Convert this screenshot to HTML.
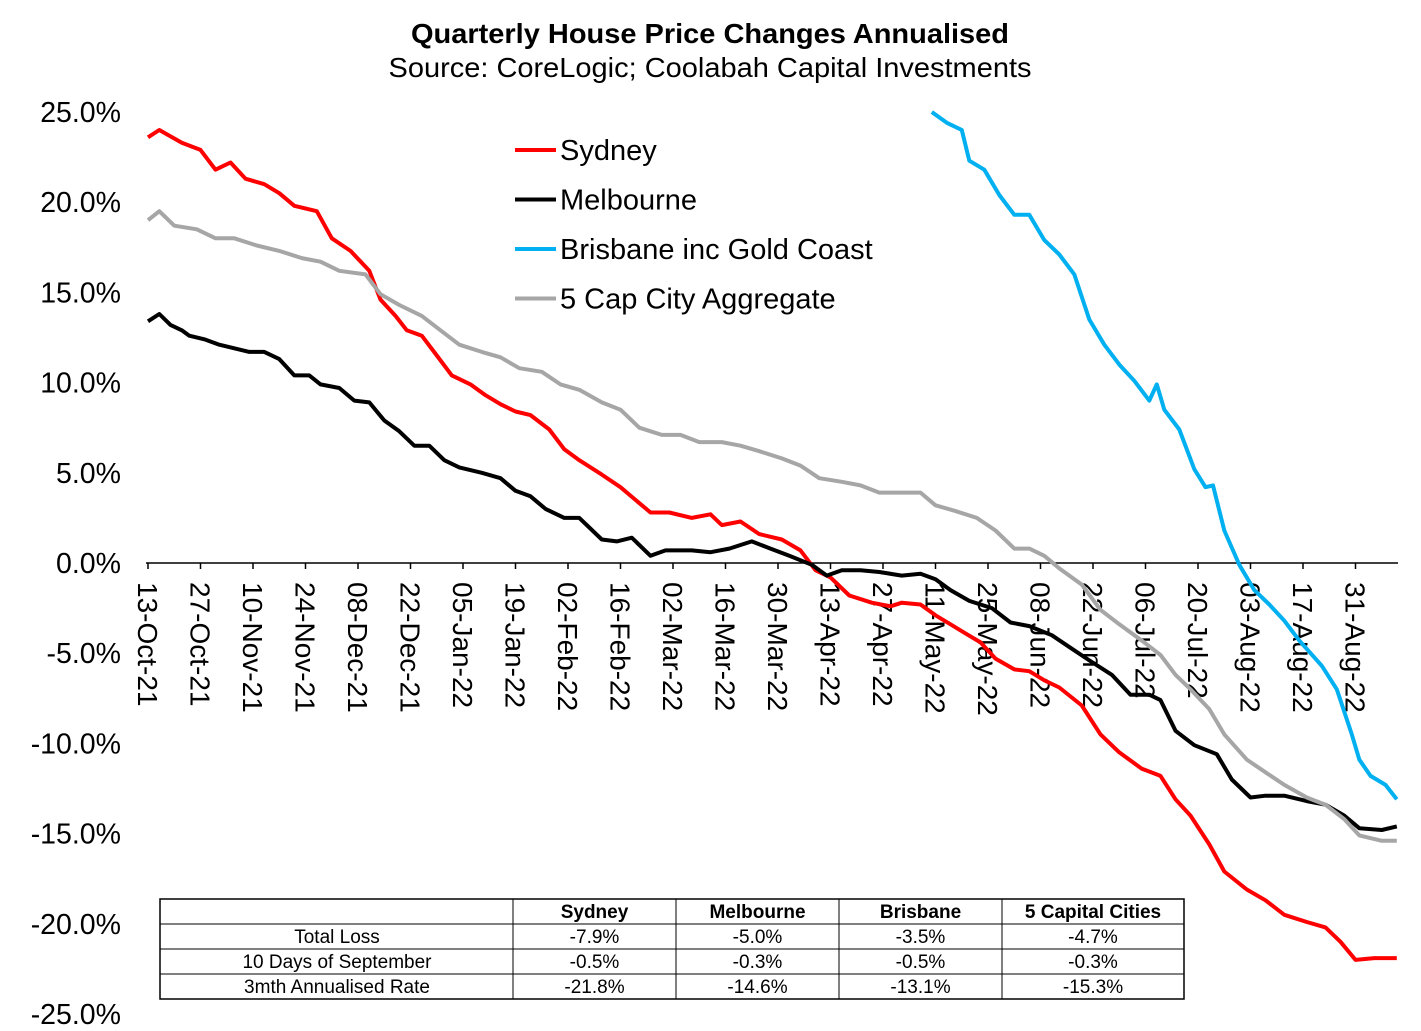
<!DOCTYPE html>
<html><head><meta charset="utf-8"><style>
body{margin:0;background:#fff;font-family:"Liberation Sans",Arial,sans-serif}
svg{display:block}
</style></head><body>
<svg id="chart" width="1421" height="1031" xmlns="http://www.w3.org/2000/svg" font-family="Liberation Sans, Arial, sans-serif">
<text x="710" y="43" text-anchor="middle" font-size="28" font-weight="bold" textLength="598" lengthAdjust="spacingAndGlyphs">Quarterly House Price Changes Annualised</text>
<text x="710" y="77" text-anchor="middle" font-size="28" textLength="643" lengthAdjust="spacingAndGlyphs">Source: CoreLogic; Coolabah Capital Investments</text>
<g id="yaxis"></g>
<g id="xaxis"></g>
<g id="series"></g>
<g id="legend"></g>
<g id="table"></g>
</svg>
<script>
const xTickLabels=["13-Oct-21","27-Oct-21","10-Nov-21","24-Nov-21","08-Dec-21","22-Dec-21","05-Jan-22","19-Jan-22","02-Feb-22","16-Feb-22","02-Mar-22","16-Mar-22","30-Mar-22","13-Apr-22","27-Apr-22","11-May-22","25-May-22","08-Jun-22","22-Jun-22","06-Jul-22","20-Jul-22","03-Aug-22","17-Aug-22","31-Aug-22"];
const yTicks=[25,20,15,10,5,0,-5,-10,-15,-20,-25];
const seriesNames=["Sydney","Melbourne","Brisbane inc Gold Coast","5 Cap City Aggregate"];
const sydDays=[0,3,9,14,18,22,26,31,35,39,45,49,54,59,62,66,69,73,77,81,86,90,94,98,102,107,111,115,121,126,130,134,139,145,150,153,158,163,169,174,178,182,187,193,198,201,206,210,214,218,222,226,231,235,239,243,249,254,259,265,270,274,278,283,287,293,298,303,309,314,318,322,327,333];
const sydVals=[23.6,24.0,23.3,22.9,21.8,22.2,21.3,21.0,20.5,19.8,19.5,18.0,17.3,16.2,14.6,13.7,12.9,12.6,11.5,10.4,9.9,9.3,8.8,8.4,8.2,7.4,6.3,5.7,4.9,4.2,3.5,2.8,2.8,2.5,2.7,2.1,2.3,1.6,1.3,0.7,-0.4,-0.8,-1.8,-2.2,-2.4,-2.2,-2.3,-2.9,-3.4,-3.9,-4.4,-5.3,-5.9,-6.0,-6.5,-6.9,-7.9,-9.5,-10.5,-11.4,-11.8,-13.1,-14.0,-15.6,-17.1,-18.1,-18.7,-19.5,-19.9,-20.2,-21.0,-22.0,-21.9,-21.9];
const melDays=[0,3,6,9,11,15,19,23,27,31,35,39,43,46,51,55,59,63,67,71,75,79,83,89,94,98,102,106,111,115,121,125,129,134,138,145,150,155,161,166,171,177,181,185,190,195,201,206,210,214,219,225,230,235,241,246,251,257,262,267,270,274,279,285,289,294,298,303,309,314,319,323,329,333];
const melVals=[13.4,13.8,13.2,12.9,12.6,12.4,12.1,11.9,11.7,11.7,11.3,10.4,10.4,9.9,9.7,9.0,8.9,7.9,7.3,6.5,6.5,5.7,5.3,5.0,4.7,4.0,3.7,3.0,2.5,2.5,1.3,1.2,1.4,0.4,0.7,0.7,0.6,0.8,1.2,0.8,0.4,-0.1,-0.7,-0.4,-0.4,-0.5,-0.7,-0.6,-0.9,-1.5,-2.1,-2.5,-3.3,-3.5,-4.0,-4.7,-5.4,-6.2,-7.3,-7.3,-7.6,-9.3,-10.1,-10.6,-12.0,-13.0,-12.9,-12.9,-13.2,-13.4,-14.0,-14.7,-14.8,-14.6];
const brisDays=[209,213,217,219,223,227,231,235,239,243,247,251,255,259,263,267,269,271,275,279,282,284,287,291,295,299,303,307,313,317,321,323,326,330,333];
const brisVals=[25.0,24.4,24.0,22.3,21.8,20.4,19.3,19.3,17.9,17.1,16.0,13.5,12.1,11.0,10.1,9.0,9.9,8.5,7.4,5.2,4.2,4.3,1.8,-0.1,-1.5,-2.3,-3.2,-4.3,-5.7,-7.0,-9.5,-10.9,-11.8,-12.3,-13.1];
const capDays=[0,3,7,13,18,23,29,35,41,46,51,58,62,67,73,78,83,89,94,99,105,110,115,121,126,131,137,142,147,153,158,163,169,174,179,185,190,195,201,206,210,215,221,226,231,235,239,243,249,254,259,265,270,274,278,283,287,293,298,303,309,314,319,323,329,333];
const capVals=[19.0,19.5,18.7,18.5,18.0,18.0,17.6,17.3,16.9,16.7,16.2,16.0,14.9,14.3,13.7,12.9,12.1,11.7,11.4,10.8,10.6,9.9,9.6,8.9,8.5,7.5,7.1,7.1,6.7,6.7,6.5,6.2,5.8,5.4,4.7,4.5,4.3,3.9,3.9,3.9,3.2,2.9,2.5,1.8,0.8,0.8,0.4,-0.3,-1.2,-2.6,-3.4,-4.3,-5.1,-6.2,-7.0,-8.1,-9.5,-10.9,-11.6,-12.3,-13.0,-13.4,-14.2,-15.1,-15.4,-15.4];
const tableCols=["","Sydney","Melbourne","Brisbane","5 Capital Cities"];
const tableRows=["Total Loss","10 Days of September","3mth Annualised Rate"];
const tableVals=[["-7.9%","-5.0%","-3.5%","-4.7%"],["-0.5%","-0.3%","-0.5%","-0.3%"],["-21.8%","-14.6%","-13.1%","-15.3%"]];

const NS="http://www.w3.org/2000/svg";
const X0=148,PXD=3.75,Y0=563,PXV=18.04;
const xs=d=>X0+d*PXD, ys=v=>Y0-v*PXV;
function mk(tag,attrs,parent,txt){const e=document.createElementNS(NS,tag);for(const k in attrs)e.setAttribute(k,attrs[k]);if(txt!==undefined)e.textContent=txt;parent.appendChild(e);return e;}

const yg=document.getElementById('yaxis');
yTicks.forEach(v=>{const t=mk('text',{x:121,y:ys(v)+10,'text-anchor':'end','font-size':28.5},yg,v.toFixed(1)+'%');

});

const xg=document.getElementById('xaxis');
const ax=mk('line',{x1:146,y1:Y0,x2:1398,y2:Y0,stroke:'#000','stroke-width':1.5},xg);


xTickLabels.forEach((s,i)=>{const x=xs(i*14);
const tk=mk('line',{x1:x,y1:Y0,x2:x,y2:Y0+6,stroke:'#000','stroke-width':1.5},xg);


const t=mk('text',{x:0,y:0,'font-size':28,transform:`translate(${x-10},${Y0+19}) rotate(90)`},xg,s);

});

const sg=document.getElementById('series');
const defs=[[sydDays,sydVals,'#ff0000','sydney-line'],[melDays,melVals,'#000000','melbourne-line'],[capDays,capVals,'#a6a6a6','five-cap-city-line'],[brisDays,brisVals,'#00b0f0','brisbane-line']];
defs.forEach(([d,v,c,n])=>{const pts=d.map((dd,i)=>xs(dd).toFixed(1)+','+ys(v[i]).toFixed(1)).join(' ');
const p=mk('polyline',{points:pts,fill:'none',stroke:c,'stroke-width':4,'stroke-linejoin':'round'},sg);

});

const lg=document.getElementById('legend');
const lcols=['#ff0000','#000000','#00b0f0','#a6a6a6'];
seriesNames.forEach((s,i)=>{const y=150+i*49.5;
const l=mk('line',{x1:515,y1:y,x2:556,y2:y,stroke:lcols[i],'stroke-width':4},lg);


const t=mk('text',{x:560,y:y+10,'font-size':29},lg,s);

});

const tg=document.getElementById('table');
const cx=[160,513,676,839,1002,1184], ry=[899,924,949,974,999];
mk('rect',{x:160,y:899,width:1024,height:100,fill:'#fff',stroke:'#000','stroke-width':1.5},tg);
ry.slice(1,4).forEach(y=>mk('line',{x1:160,y1:y,x2:1184,y2:y,stroke:'#000','stroke-width':1},tg));
cx.slice(1,5).forEach(x=>mk('line',{x1:x,y1:899,x2:x,y2:999,stroke:'#000','stroke-width':1},tg));
tableCols.forEach((s,i)=>{if(!s)return;const t=mk('text',{x:(cx[i]+cx[i+1])/2,y:918,'text-anchor':'middle','font-size':19,'font-weight':'bold'},tg,s);

});
tableRows.forEach((r,j)=>{const y=ry[j+1]+19;
const t=mk('text',{x:337,y:y,'text-anchor':'middle','font-size':19},tg,r);


tableVals[j].forEach((v,i)=>{const c=mk('text',{x:(cx[i+1]+cx[i+2])/2,y:y,'text-anchor':'middle','font-size':19},tg,v);

});});
</script>
</body></html>
